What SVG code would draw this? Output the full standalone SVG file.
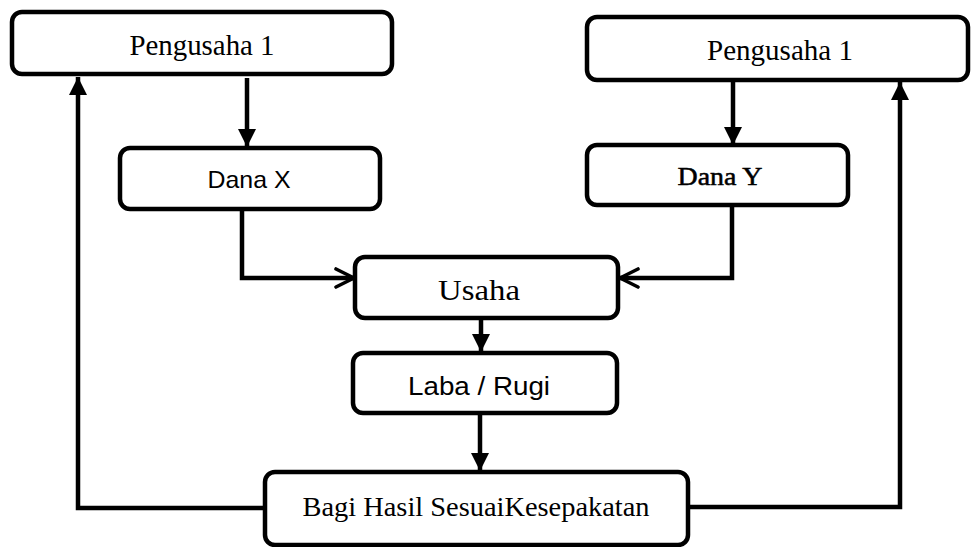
<svg xmlns="http://www.w3.org/2000/svg" width="971" height="547" viewBox="0 0 971 547">
<style>
.box{fill:#fff;stroke:#000;stroke-width:4.5}
.ln{fill:none;stroke:#000;stroke-width:4.5}
.serif{font-family:"Liberation Serif","Times New Roman",serif;fill:#000}
.sans{font-family:"Liberation Sans",Arial,sans-serif;fill:#000}
</style>
<defs>
<marker id="tri" viewBox="0 0 10 10" refX="10" refY="5" markerWidth="4" markerHeight="4" orient="auto" markerUnits="strokeWidth">
<path d="M0,0 L10,5 L0,10 Z" fill="#000"/>
</marker>
<marker id="chev" viewBox="0 0 10 10" refX="9" refY="5" markerWidth="5" markerHeight="5" orient="auto" markerUnits="strokeWidth">
<path d="M1,1 L9,5 L1,9" fill="none" stroke="#000" stroke-width="1.6" stroke-linecap="round" stroke-linejoin="round"/>
</marker>
</defs>
<rect width="971" height="547" fill="#fff"/>
<g id="connectors">
<path class="ln" d="M247,78 V147" marker-end="url(#tri)"/>
<path class="ln" d="M733,82 V145" marker-end="url(#tri)"/>
<path class="ln" d="M242,210 V278 H354" marker-end="url(#chev)"/>
<path class="ln" d="M732,205 V278 H620" marker-end="url(#chev)"/>
<path class="ln" d="M481,318 V352" marker-end="url(#tri)"/>
<path class="ln" d="M480,413 V471" marker-end="url(#tri)"/>
<path class="ln" d="M265,508 H78 V77" marker-end="url(#tri)"/>
<path class="ln" d="M688,507 H900 V82" marker-end="url(#tri)"/>
</g>
<g id="pengusaha-left">
<rect class="box" x="12" y="12" width="380" height="62" rx="10"/>
<text class="serif" x="202" y="55" font-size="30" text-anchor="middle" textLength="145" lengthAdjust="spacingAndGlyphs">Pengusaha 1</text>
</g>
<g id="pengusaha-right">
<rect class="box" x="587" y="17" width="381" height="63" rx="10"/>
<text class="serif" x="780" y="60" font-size="30" text-anchor="middle" textLength="146" lengthAdjust="spacingAndGlyphs">Pengusaha 1</text>
</g>
<g id="dana-x">
<rect class="box" x="120" y="148" width="260" height="61" rx="10"/>
<text class="sans" x="249" y="188" font-size="24" text-anchor="middle" textLength="83" lengthAdjust="spacingAndGlyphs">Dana X</text>
</g>
<g id="dana-y">
<rect class="box" x="587" y="145" width="261" height="60" rx="10"/>
<text class="serif" x="720" y="185" font-size="25" text-anchor="middle" textLength="85" lengthAdjust="spacingAndGlyphs" stroke="#000" stroke-width="0.5">Dana Y</text>
</g>
<g id="usaha">
<rect class="box" x="355" y="257" width="263" height="61" rx="10"/>
<text class="serif" x="479" y="300" font-size="29" text-anchor="middle" textLength="82" lengthAdjust="spacingAndGlyphs">Usaha</text>
</g>
<g id="laba-rugi">
<rect class="box" x="353" y="353" width="264" height="60" rx="10"/>
<text class="sans" x="479" y="395" font-size="25" text-anchor="middle" textLength="142" lengthAdjust="spacingAndGlyphs">Laba / Rugi</text>
</g>
<g id="bagi-hasil">
<rect class="box" x="265" y="472" width="423" height="73" rx="10"/>
<text class="serif" x="476" y="516" font-size="28" text-anchor="middle" textLength="347" lengthAdjust="spacingAndGlyphs">Bagi Hasil SesuaiKesepakatan</text>
</g>
</svg>
